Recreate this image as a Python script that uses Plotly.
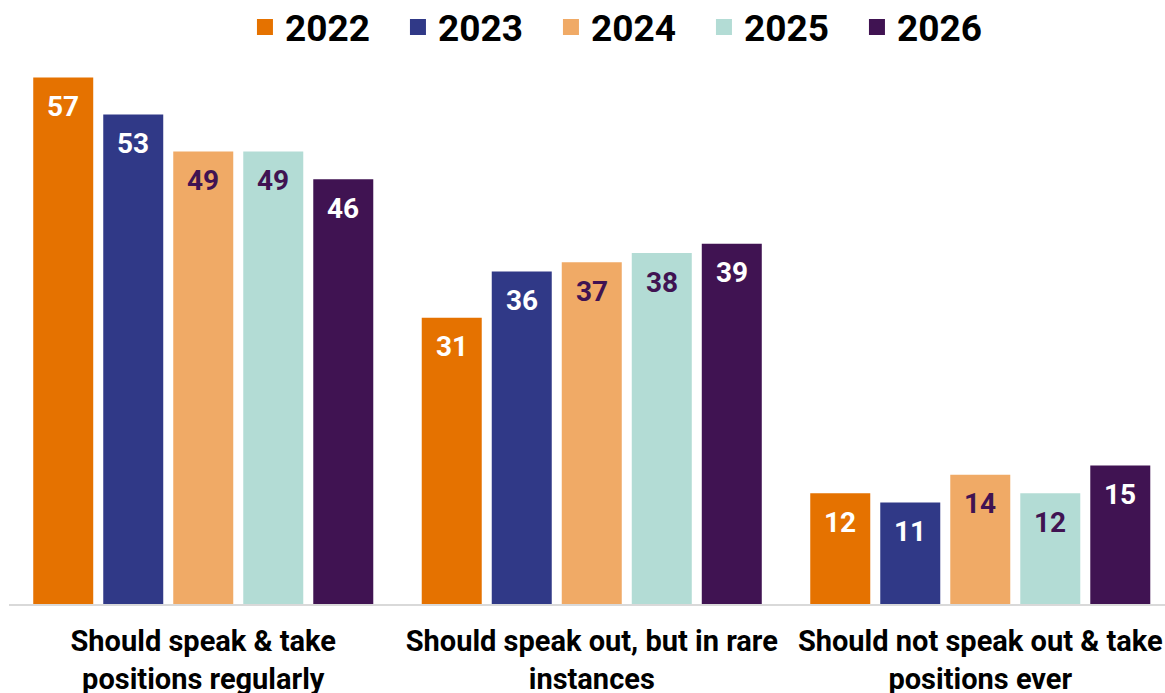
import plotly.graph_objects as go

categories = ["Should speak & take<br>positions regularly",
              "Should speak out, but in rare<br>instances",
              "Should not speak out & take<br>positions ever"]
years = ["2022", "2023", "2024", "2025", "2026"]
v2022 = [57, 31, 12]
v2023 = [53, 36, 11]
v2024 = [49, 37, 14]
v2025 = [49, 38, 12]
v2026 = [46, 39, 15]
series = [v2022, v2023, v2024, v2025, v2026]

colors = ["#E57200", "#303987", "#F0AA66", "#B3DCD5", "#401352"]
label_colors = ["#FFFFFF", "#FFFFFF", "#401352", "#401352", "#FFFFFF"]
FONT = "Roboto"
bargap = 0.099

fig = go.Figure()
for name, vals, c in zip(years, series, colors):
    fig.add_trace(go.Bar(name=name, x=categories, y=vals, marker=dict(color=c, line=dict(width=0)),
                         hoverinfo="skip", showlegend=False))
# legend entries with larger square swatches
for name, c in zip(years, colors):
    fig.add_trace(go.Scatter(name=name, x=[None], y=[None], mode="markers",
                             marker=dict(symbol="square", size=18, color=c, line=dict(width=0)),
                             showlegend=True, hoverinfo="skip"))

slot = (1 - bargap) / len(years)
annotations = []
for i, (vals, lc) in enumerate(zip(series, label_colors)):
    for j, v in enumerate(vals):
        annotations.append(dict(
            x=j + (i - (len(years) - 1) / 2) * slot, y=v, xref="x", yref="y",
            text="<b>%d</b>" % v, showarrow=False, yanchor="middle", yshift=-29,
            font=dict(family=FONT, size=28, color=lc)))

fig.update_layout(
    width=1165, height=693,
    margin=dict(l=9, r=0, t=60, b=89, autoexpand=False),
    paper_bgcolor="white", plot_bgcolor="white",
    barmode="group", bargap=bargap, bargroupgap=0.143,
    font=dict(family=FONT, color="black"),
    annotations=annotations,
    legend=dict(orientation="h", x=0.535, xanchor="center", yref="container", y=0.9605,
                yanchor="middle", font=dict(family=FONT, size=37, color="black", weight="bold"),
                entrywidth=108, entrywidthmode="pixels", itemclick=False, itemdoubleclick=False),
    xaxis=dict(tickfont=dict(family=FONT, size=29, color="black", weight="bold"),
               range=[-0.5, 2.4755], showline=True, linecolor="#D9D9D9", linewidth=2,
               ticks="", showgrid=False, ticklabelstandoff=10, automargin=False),
    yaxis=dict(range=[0, 58.9], visible=False, showgrid=False, zeroline=False, automargin=False),
)

fig.write_html("out.html", config={"displayModeBar": False},
               post_script="document.body.style.margin='0';document.body.style.overflow='hidden';")
